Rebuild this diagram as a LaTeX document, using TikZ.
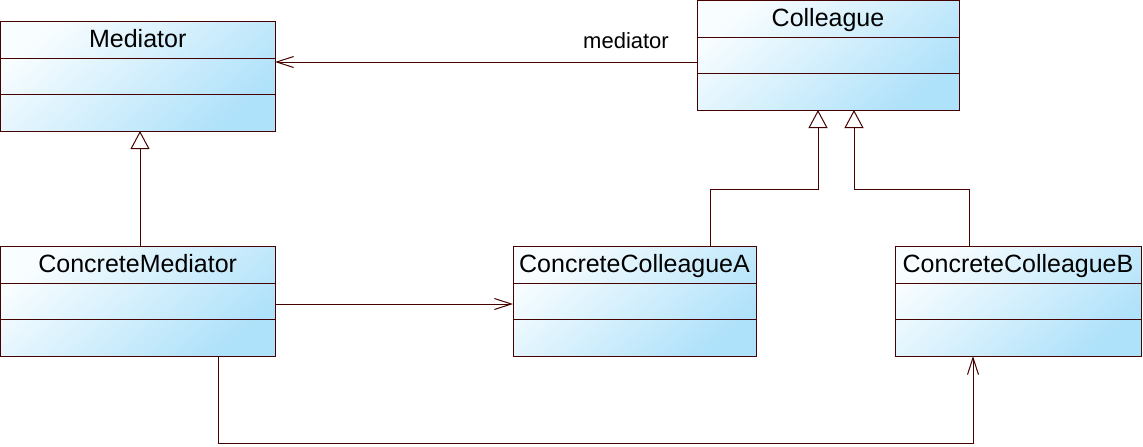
\documentclass[tikz,border=0pt]{standalone}
\usepackage{fontspec}
\setmainfont{Liberation Sans}
\usetikzlibrary{arrows.meta,calc}
\definecolor{edge}{RGB}{70,0,0}
\definecolor{lite}{RGB}{248,253,255}
\definecolor{blu}{RGB}{174,225,250}
\newcommand\umlcls[6]{%
  \node[cls, minimum width={#4pt-#2pt}, minimum height={#5pt-#3pt}] (#1) at (#2,#3) {};
  \draw[sep] (#2,{#3+37}) -- (#4,{#3+37});
  \draw[sep] (#2,{#3+73}) -- (#4,{#3+73});
  \node[ttl] (#1-t) at ({(#2+#4)/2},{#3+26}) {#6};
}
\begin{document}
\begin{tikzpicture}[x=1pt,y=-1pt,
  cls/.style={draw=edge, line width=1pt, top color=lite, bottom color=blu, shading angle=40,
    inner sep=0pt, outer sep=0pt, anchor=north west},
  sep/.style={draw=edge, line width=1pt},
  ttl/.style={font=\fontsize{25}{28}\selectfont, text=black, anchor=base, inner sep=0pt},
  conn/.style={draw=edge, line width=1pt},
  gen/.style={conn, -{Triangle[length=18pt,width=19pt,fill=white,line width=1pt]}},
  assoc/.style={conn, -{Straight Barb[length=17pt,width=11pt,line width=1pt]}},
  lbl/.style={font=\fontsize{22}{24}\selectfont, anchor=base, inner sep=0pt}
]
\useasboundingbox (0,0) rectangle (1143,447);
\umlcls{med}{0.5}{21}{275}{131}{Mediator}
\umlcls{coll}{697}{0.5}{959}{110}{Colleague}
\umlcls{cmed}{0.5}{246}{275}{356}{ConcreteMediator}
\umlcls{cca}{513}{246}{756}{356}{ConcreteColleagueA}
\umlcls{ccb}{895}{246}{1141}{356}{ConcreteColleagueB}

\draw[assoc] (coll.west |- 0,62) -- (med.east |- 0,62);
\node[lbl] (mlabel) at (626,48) {mediator};

\draw[gen] (cmed.north -| 140,0) -- (med.south -| 140,0);
\draw[gen] (cca.north -| 710,0) |- (818,189) -- (coll.south -| 818,0);
\draw[gen] (ccb.north -| 969,0) |- (854,189) -- (coll.south -| 854,0);

\draw[assoc] (cmed.east |- 0,304) -- (cca.west |- 0,304);
\draw[assoc] (cmed.south -| 218,0) |- (973,443) -- (ccb.south -| 973,0);
\end{tikzpicture}
\end{document}
